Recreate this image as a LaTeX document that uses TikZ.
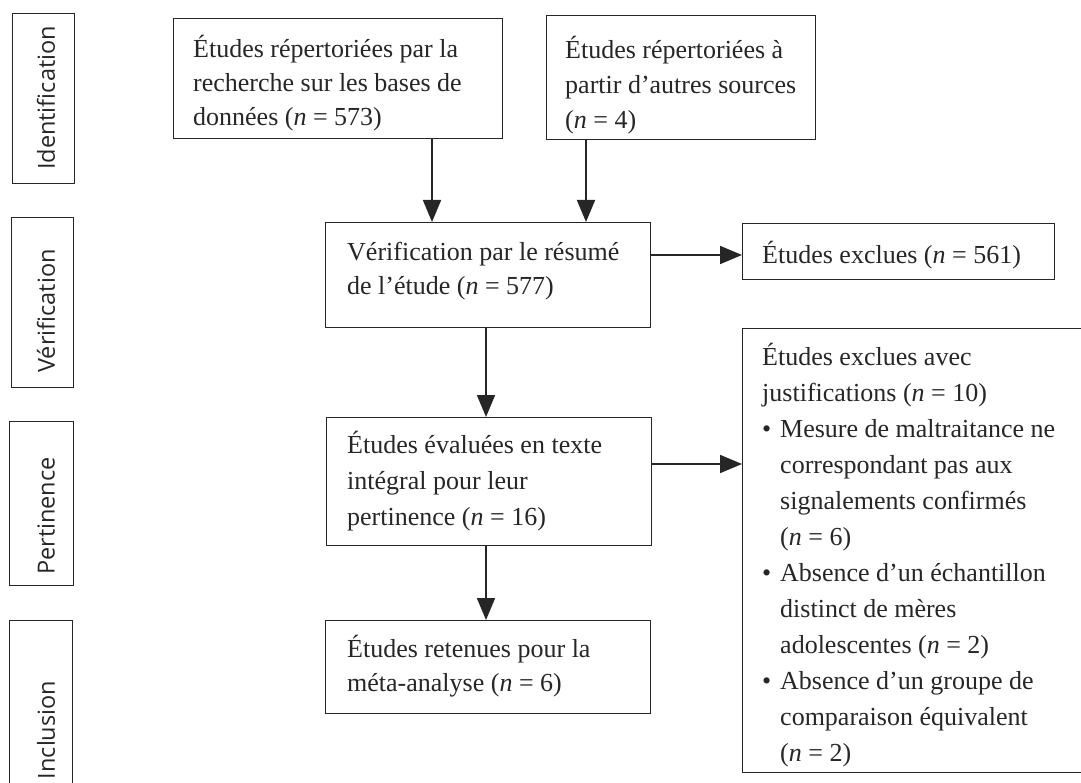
\documentclass[tikz,border=0pt]{standalone}
\usepackage{fontspec}
\setmainfont{Liberation Serif}
\newfontfamily\sidefont{Open Sans}
\usetikzlibrary{arrows.meta}
\definecolor{ink}{HTML}{262626}
\newcommand{\bul}{\makebox[18pt][l]{•}}
\newcommand{\ind}{\hspace*{18pt}}
\newcommand{\fs}{\rule{0pt}{24pt}}
\begin{document}
\begin{tikzpicture}[x=1pt,y=-1pt,
  box/.style={draw=ink, line width=1.4pt, anchor=north west, inner sep=0pt},
  txt/.style={anchor=north west, inner sep=0pt, align=left, text=ink},
  side/.style={draw=ink, line width=1.4pt, anchor=north west, inner sep=0pt},
  sidetxt/.style={rotate=90, inner sep=0pt, text=ink, font=\sidefont\fontsize{23.5}{28}\selectfont},
  arr/.style={draw=ink, line width=1.8pt, -{Triangle[length=22pt,width=18pt]}}]
\useasboundingbox (0,0) rectangle (1081,783);

% side labels
\node[side, minimum width=62pt, minimum height=170pt] (s1) at (12,13) {};
\node[side, minimum width=62pt, minimum height=170pt] (s2) at (11,217) {};
\node[side, minimum width=64pt, minimum height=164pt] (s3) at (9,421) {};
\node[side, minimum width=63pt, minimum height=225pt] (s4) at (9,620) {};
\node[sidetxt] (s1t) at (46,98) {Identification};
\node[sidetxt] (s2t) at (46,311) {Vérification};
\node[sidetxt] (s3t) at (46,516) {Pertinence};
\node[sidetxt] (s4t) at (46,730) {Inclusion};

% boxes
\node[box, minimum width=329pt, minimum height=120pt] (b1) at (173,18) {};
\node[box, minimum width=269pt, minimum height=124pt] (b2) at (546,15) {};
\node[box, minimum width=325pt, minimum height=105pt] (b3) at (325,222) {};
\node[box, minimum width=325pt, minimum height=128pt] (b4) at (326,417) {};
\node[box, minimum width=325pt, minimum height=93pt] (b5) at (325,620) {};
\node[box, minimum width=312pt, minimum height=56pt] (ex) at (742,223) {};
\node[box, minimum width=350pt, minimum height=444pt] (big) at (742,328) {};

% texts
\node[txt, font=\fontsize{26}{34}\selectfont] (t1) at (193,33)
  {\fs Études répertoriées par la\\recherche sur les bases de\\données (\textit{n} = 573)};
\node[txt, font=\fontsize{26}{35}\selectfont] (t2) at (565,34)
  {\fs Études répertoriées à\\partir d’autres sources\\(\textit{n} = 4)};
\node[txt, font=\fontsize{26}{34}\selectfont] (t3) at (347,236)
  {\fs Vérification par le résumé\\de l’étude (\textit{n} = 577)};
\node[txt, font=\fontsize{26}{36}\selectfont] (t4) at (347,429)
  {\fs Études évaluées en texte\\intégral pour leur\\pertinence (\textit{n} = 16)};
\node[txt, font=\fontsize{26}{34}\selectfont] (t5) at (347,633)
  {\fs Études retenues pour la\\méta-analyse (\textit{n} = 6)};
\node[txt, font=\fontsize{26}{34}\selectfont] (tex) at (762,239)
  {\fs Études exclues (\textit{n} = 561)};
\node[txt, font=\fontsize{26}{36}\selectfont] (tbig) at (762,341)
  {\fs Études exclues avec\\
   justifications (\textit{n} = 10)\\
   \bul Mesure de maltraitance ne\\
   \ind correspondant pas aux\\
   \ind signalements confirmés\\
   \ind (\textit{n} = 6)\\
   \bul Absence d’un échantillon\\
   \ind distinct de mères\\
   \ind adolescentes (\textit{n} = 2)\\
   \bul Absence d’un groupe de\\
   \ind comparaison équivalent\\
   \ind (\textit{n} = 2)};

% connectors
\coordinate (c1) at (432,0);
\coordinate (c2) at (586,0);
\coordinate (c3) at (0,255);
\coordinate (c4) at (486,0);
\coordinate (c5) at (0,464);
\draw[arr] (b1.south -| c1) -- (b3.north -| c1);
\draw[arr] (b2.south -| c2) -- (b3.north -| c2);
\draw[arr] (b3.east |- c3) -- (ex.west |- c3);
\draw[arr] (b3.south -| c4) -- (b4.north -| c4);
\draw[arr] (b4.east |- c5) -- (big.west |- c5);
\draw[arr] (b4.south -| c4) -- (b5.north -| c4);
\end{tikzpicture}
\end{document}
